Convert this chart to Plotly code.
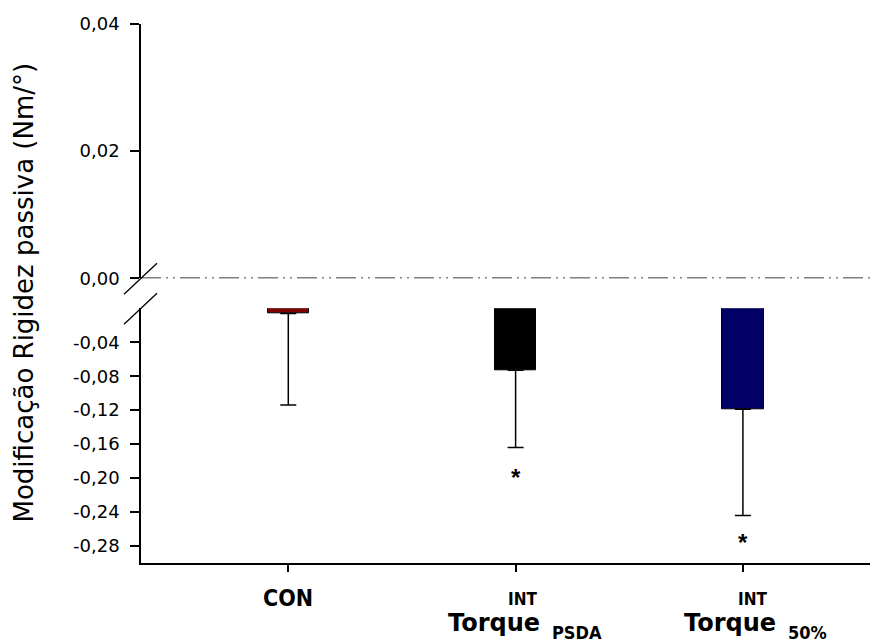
import plotly.graph_objects as go

# ---------------- data ----------------
categories = ["CON", "INT Torque PSDA", "INT Torque 50%"]
label_top = ["CON", "INT", "INT"]
label_main = ["", "Torque", "Torque"]
label_sub = ["", "PSDA", "50%"]
means = [-0.006, -0.073, -0.119]
sd_minus = [0.108, 0.091, 0.125]
sig_text = ["", "*", "*"]
sig_y = [None, -0.193, -0.270]
bar_colors = ["#800000", "#000000", "#000066"]

upper_ticks = [0.0, 0.02, 0.04]
upper_labels = ["0,00", "0,02", "0,04"]
lower_ticks = [-0.04, -0.08, -0.12, -0.16, -0.20, -0.24, -0.28]
lower_labels = ["-0,04", "-0,08", "-0,12", "-0,16", "-0,20", "-0,24", "-0,28"]
y_title = "Modificação Rigidez passiva (Nm/°)"

# ---------------- layout geometry ----------------
# the page body has a default 8px margin: compensate so marks land where wanted
OFF = 8
W, H = 878, 641
AX_LEFT_PAGE, AX_TOP_PAGE, AX_BOTTOM_PAGE = 141, 24, 563
ML = AX_LEFT_PAGE - OFF
MT = AX_TOP_PAGE - OFF
MB = H - (AX_BOTTOM_PAGE - OFF)
MR = 0
PW, PH = W - ML - MR, H - MT - MB
CAT0_PAGE, CAT_STEP = 288.3, 227.3


def py(p):
    """page pixel y -> paper y"""
    return (AX_BOTTOM_PAGE - p) / PH


def px(p):
    """page pixel x -> paper x"""
    return (p - AX_LEFT_PAGE) / PW


x_lo = -(CAT0_PAGE - AX_LEFT_PAGE) / CAT_STEP
x_hi = x_lo + PW / CAT_STEP

lower_dom = [0, py(308.3)]
upper_dom = [py(278.3), 1]
xs = list(range(len(categories)))

fig = go.Figure()
fig.add_trace(go.Bar(
    x=xs, y=means, width=0.183,
    marker=dict(color=bar_colors, line=dict(color="#000000", width=1)),
    error_y=dict(type="data", symmetric=False, array=[0] * len(means),
                 arrayminus=sd_minus, color="#000000", thickness=1.5, width=8),
    xaxis="x", yaxis="y", showlegend=False, hoverinfo="skip",
))
# invisible trace to activate upper axis
fig.add_trace(go.Scatter(x=[xs[0]], y=[upper_ticks[0]], mode="markers",
                         marker=dict(opacity=0), xaxis="x", yaxis="y2",
                         showlegend=False, hoverinfo="skip"))

tick_font = dict(family="DejaVu Sans", size=18, color="#000000")
common_y = dict(showline=True, linecolor="#000000", linewidth=1.5,
                ticks="outside", ticklen=9, tickwidth=1.5, tickcolor="#000000",
                tickfont=tick_font, showgrid=False, zeroline=False,
                anchor="x", ticklabelstandoff=7)

fig.update_layout(
    width=W, height=H,
    margin=dict(l=ML, r=MR, t=MT, b=MB, autoexpand=False),
    paper_bgcolor="white", plot_bgcolor="white",
    bargap=0,
    xaxis=dict(range=[x_lo, x_hi], tickvals=xs, showticklabels=False,
               showline=True, linecolor="#000000", linewidth=1.5,
               ticks="outside", ticklen=7, tickwidth=1.5, tickcolor="#000000",
               showgrid=False, zeroline=False, anchor="y"),
    yaxis=dict(domain=lower_dom, range=[-0.30, 0.0],
               tickvals=lower_ticks, ticktext=lower_labels, **common_y),
    yaxis2=dict(domain=upper_dom, range=[0.0, 0.04],
                tickvals=upper_ticks, ticktext=upper_labels, **common_y),
)

# significance asterisks
for i, x in enumerate(xs):
    if sig_text[i]:
        fig.add_annotation(text="<b>%s</b>" % sig_text[i], x=x, y=sig_y[i],
                           xref="x", yref="y", yshift=-5, showarrow=False,
                           xanchor="center", yanchor="middle",
                           font=dict(family="Liberation Sans", size=24,
                                     color="#000000"))

# zero reference line (dash-dot) in the upper panel
fig.add_shape(type="line", xref="paper", yref="y2", x0=0, x1=1, y0=0, y1=0,
              line=dict(color="#000000", width=1.5,
                        dash="20px,5px,2px,5px,2px,5px"))
# axis break marks (paper-referenced so they are not clipped)
for yanc in (upper_dom[0], lower_dom[1]):
    fig.add_shape(type="line", xref="paper", yref="paper",
                  xsizemode="pixel", ysizemode="pixel",
                  xanchor=0, yanchor=yanc,
                  x0=-17, x1=16, y0=-16, y1=15,
                  line=dict(color="#000000", width=1.3))

# y axis title
fig.add_annotation(text=y_title, xref="paper", yref="paper",
                   x=px(23), y=py(292.5), textangle=-90, showarrow=False,
                   xanchor="center", yanchor="middle",
                   font=dict(family="DejaVu Sans", size=26, color="#000000"))

# category labels
narrow = "Liberation Sans Narrow, DejaVu Sans Condensed, Arial Narrow, sans-serif"
top_sizes = [23, 17, 17]
top_shift = [0, 7, 10]
junction_shift = [0, 30, 39]
for i, x in enumerate(xs):
    fig.add_annotation(text="<b>%s</b>" % label_top[i], x=x, xref="x",
                       yref="paper", y=py(599 if i else 598),
                       xshift=top_shift[i], showarrow=False,
                       xanchor="center", yanchor="middle",
                       font=dict(family=narrow, size=top_sizes[i], color="#000000"))
    if label_main[i]:
        fig.add_annotation(text="<b>%s</b>" % label_main[i], x=x, xref="x",
                           yref="paper", y=py(623), xshift=junction_shift[i] - 4,
                           showarrow=False, xanchor="right", yanchor="middle",
                           font=dict(family="DejaVu Sans", size=24, color="#000000"))
        fig.add_annotation(text="<b>%s</b>" % label_sub[i], x=x, xref="x",
                           yref="paper", y=py(632), xshift=junction_shift[i] + 4,
                           showarrow=False, xanchor="left", yanchor="middle",
                           font=dict(family=narrow, size=18, color="#000000"))

fig.write_html("out.html")
